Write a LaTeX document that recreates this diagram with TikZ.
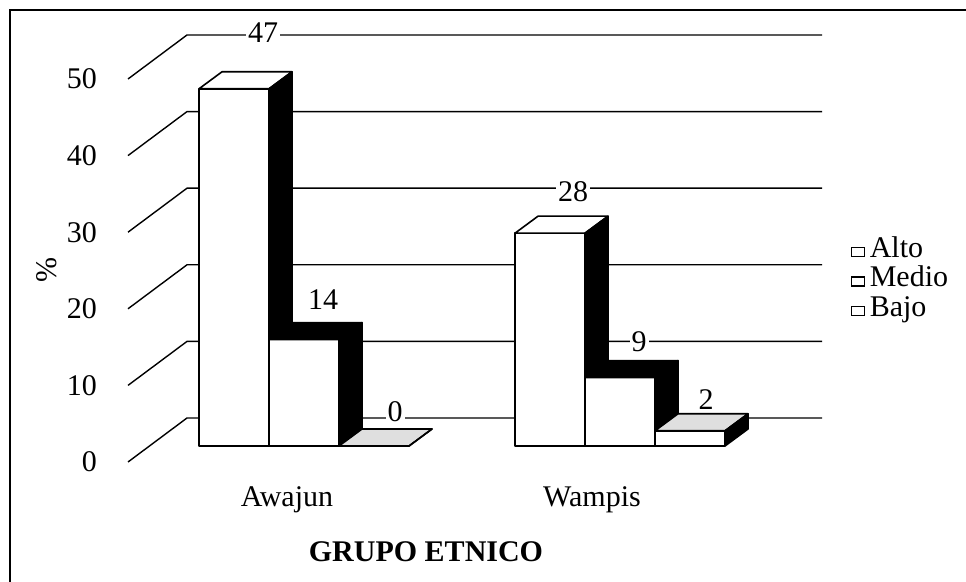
\documentclass[tikz,border=0pt]{standalone}
\usepackage{fontspec}
\setmainfont{Liberation Serif}
\usetikzlibrary{positioning}

\tikzset{
	grid line/.style={line width=0.7pt},
	bar edge/.style={draw,line width=0.8pt,line join=round},
	val/.style={fill=white,inner sep=1pt},
	legbox/.style={draw,fill=white,line width=0.9pt,minimum width=6.5pt,minimum height=4.5pt,inner sep=0pt},
	legtext/.style={inner sep=0pt,text height=0.75em,text depth=0.2em},
}
% one column: left x, value, colour of its top
\newcommand{\colbar}[3]{%
	\draw[bar edge,fill=white] (#1,446) rectangle (#1+70,{446-7.6*#2});
	\draw[bar edge,fill=#3] (#1,{446-7.6*#2}) -- ++(23,-17) -- ++(70,0) -- ++(-23,17) -- cycle;
	\draw[bar edge,fill=black] (#1+70,446) -- ++(23,-17) -- ++(0,{-7.6*#2}) -- ++(-23,17) -- cycle;
}

\begin{document}
\begin{tikzpicture}[x=0.5pt,y=-0.5pt,font=\fontsize{15}{18}\selectfont]
		\useasboundingbox (0,0) rectangle (966,582);
		%Frame
			\draw[line width=1.2pt] (10,582) -- (10,10) -- (966,10);
		%Grid and axis
			\foreach \v in {0,10,...,50}
			{
				\draw[grid line] (128,{462-7.66*\v}) -- (187,{418-7.66*\v}) -- (822,{418-7.66*\v});
				\node[anchor=east] (tick\v) at (104,{462-7.66*\v}) {\v};
			}
			\node[rotate=90] (ylabel) at (47,270) {\%};
		%Columns
			\foreach \x/\v/\c in {199/47/white,269/14/black,339/0/gray!25,515/28/white,585/9/black,655/2/gray!25}
			{
				\colbar{\x}{\v}{\c}
			}
		%Values
			\foreach \x/\y/\t in {263/33/47,323/300/14,395/412/0,573/192/28,639/342/9,706/400/2}
			{
				\node[val] (val\t) at (\x,\y) {\t};
			}
		%Categories
			\node[anchor=base] (awajun) at (287,507) {Awajun};
			\node[anchor=base] (wampis) at (592,507) {Wampis};
			\node[anchor=base,font=\fontsize{15}{18}\selectfont\bfseries] (xlabel) at (426,562) {GRUPO ETNICO};
		%Legend
			\foreach \t [count=\i] in {Alto,Medio,Bajo}
			{
				\node[legbox] (box\i) at (858,{252+29.5*(\i-1)}) {};
				\node[legtext,right=2pt of box\i] (leg\i) {\t};
			}
	\end{tikzpicture}
\end{document}
